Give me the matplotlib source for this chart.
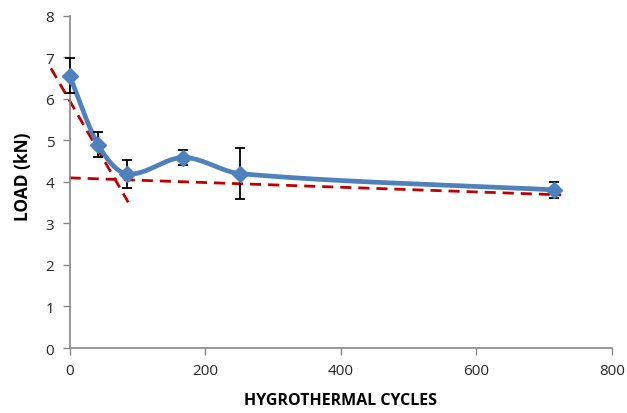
import numpy as np
import matplotlib
matplotlib.use("Agg")
import matplotlib.pyplot as plt

plt.rcParams['font.family'] = ['Open Sans', 'DejaVu Sans']

cycles = [0, 42, 84, 168, 252, 714]
load = [6.56, 4.90, 4.20, 4.59, 4.20, 3.81]
err = [0.42, 0.30, 0.34, 0.18, 0.62, 0.20]

# trendline 1 (early drop), trendline 2 (long-term)
trend1_x = [-27.5, 86.5]
trend1_slope, trend1_icpt = -0.0283, 5.96
trend2_x = [0, 725]
trend2_slope, trend2_icpt = -0.000566, 4.10

xticks = [0, 200, 400, 600, 800]
yticks = [0, 1, 2, 3, 4, 5, 6, 7, 8]


def smooth(xs, ys, n=60):
    xs = np.asarray(xs, float); ys = np.asarray(ys, float)
    m = np.zeros_like(ys)
    m[0] = (ys[1] - ys[0]) / (xs[1] - xs[0])
    m[-1] = (ys[-1] - ys[-2]) / (xs[-1] - xs[-2])
    for i in range(1, len(xs) - 1):
        m[i] = (ys[i + 1] - ys[i - 1]) / (xs[i + 1] - xs[i - 1])
    X, Y = [], []
    for i in range(len(xs) - 1):
        h = xs[i + 1] - xs[i]
        s = np.linspace(0, 1, n)
        h00 = 2 * s**3 - 3 * s**2 + 1
        h10 = s**3 - 2 * s**2 + s
        h01 = -2 * s**3 + 3 * s**2
        h11 = s**3 - s**2
        X.append(xs[i] + s * h)
        Y.append(h00 * ys[i] + h10 * h * m[i] + h01 * ys[i + 1] + h11 * h * m[i + 1])
    return np.concatenate(X), np.concatenate(Y)


fig = plt.figure(figsize=(6.27, 4.14), dpi=100)
ax = fig.add_axes([0.111, 0.157, 0.865, 0.802])

sx, sy = smooth(cycles, load)
ax.plot(sx, sy, color='#4F81BD', lw=3.4, zorder=3, solid_capstyle='round', clip_on=False)
ax.errorbar(cycles, load, yerr=err, fmt='none', ecolor='black', elinewidth=1.3,
            capsize=3.8, capthick=1.3, zorder=4, clip_on=False)
ax.plot(cycles, load, linestyle='none', marker='D', ms=8.5, color='#4F81BD', zorder=5,
        clip_on=False)

t1 = np.array(trend1_x, float)
ax.plot(t1, trend1_icpt + trend1_slope * t1, color='#C00000', lw=2, ls=(0, (4, 2.5)),
        zorder=2, clip_on=False)
t2 = np.array(trend2_x, float)
ax.plot(t2, trend2_icpt + trend2_slope * t2, color='#C00000', lw=2, ls=(0, (4, 2.5)),
        zorder=2, clip_on=False)

ax.set_xlim(0, 800)
ax.set_ylim(0, 8)
ax.set_xticks(xticks)
ax.set_yticks(yticks)
for s in ['top', 'right']:
    ax.spines[s].set_visible(False)
for s in ['left', 'bottom']:
    ax.spines[s].set_color('#868686')
    ax.spines[s].set_linewidth(1.2)
ax.tick_params(direction='out', length=5, width=1, color='#868686', labelsize=11,
               labelcolor='#262626', pad=6)
ax.set_xlabel('HYGROTHERMAL CYCLES', fontsize=11.5, fontweight='bold')
ax.set_ylabel('LOAD (kN)', fontsize=12.5, fontweight='bold')
ax.xaxis.set_label_coords(0.5, -0.132)
ax.yaxis.set_label_coords(-0.07, 0.52)

fig.savefig('out.png', dpi=100)
